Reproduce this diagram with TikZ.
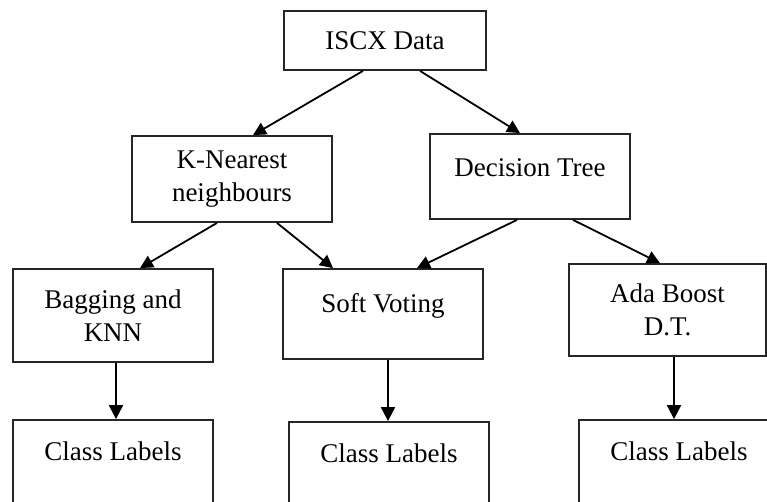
\documentclass[tikz,border=0pt]{standalone}
\usepackage{fontspec}
\setmainfont{Liberation Serif}
\usetikzlibrary{arrows.meta}
\tikzstyle{flow}=[x=1pt,y=-1pt]
\tikzstyle{box}=[rectangle, draw=black!85, line width=1.8pt, fill=white, inner sep=0pt, minimum width=200pt, align=center, font=\fontsize{27}{33}\selectfont]
\tikzstyle{edge}=[-{Triangle[length=13pt,width=13pt]}, line width=1.8pt]
\tikzstyle{down}=[-{Triangle[length=14pt,width=14pt]}, line width=2pt]

\begin{document}
\begin{tikzpicture}[flow]
			%The page
			\useasboundingbox (0,0) rectangle (767,502);
			\clip (0,0) rectangle (767,502);

			%The data
			\draw (385,40.5) node[box, minimum width=202pt, minimum height=59pt] (iscx) {ISCX Data};

			%The base learners
			\draw (232,179) node[box, minimum height=86pt] (knn) {K-Nearest\\neighbours};
			\draw (530,176.5) node[box, minimum height=85pt, text height=18pt, text depth=18pt] (dt) {Decision Tree};

			%The ensembles
			\draw (113,315.5) node[box, minimum height=93pt] (bag) {Bagging and\\KNN};
			\draw (383,314) node[box, minimum height=90pt, text height=18pt, text depth=22pt] (soft) {Soft Voting};
			\draw (667.5,310) node[box, minimum width=197pt, minimum height=92pt] (ada) {Ada Boost\\D.T.};

			%The outputs
			\draw (113,468) node[box, minimum height=96pt, text height=18pt, text depth=34pt] (cl1) {Class Labels};
			\draw (389,470) node[box, minimum height=96pt, text height=18pt, text depth=34pt] (cl2) {Class Labels};
			\draw (679,468) node[box, minimum height=96pt, text height=18pt, text depth=34pt] (cl3) {Class Labels};

			\draw[edge] ([xshift=-22pt]iscx.south) -- ([xshift=21pt]knn.north);
			\draw[edge] ([xshift=35pt]iscx.south) -- ([xshift=-10pt]dt.north);

			\draw[edge] ([xshift=-15pt]knn.south) -- ([xshift=27pt]bag.north);
			\draw[edge] ([xshift=45pt]knn.south) -- ([xshift=-50pt]soft.north);
			\draw[edge] ([xshift=-13pt]dt.south) -- ([xshift=34pt]soft.north);
			\draw[edge] ([xshift=43pt]dt.south) -- ([xshift=-7.5pt]ada.north);

			\draw[down] ([xshift=3pt]bag.south) -- ([xshift=3pt]cl1.north);
			\draw[down] ([xshift=5pt]soft.south) -- ([xshift=-1pt]cl2.north);
			\draw[down] ([xshift=6.5pt]ada.south) -- ([xshift=-5pt]cl3.north);
		\end{tikzpicture}
\end{document}
